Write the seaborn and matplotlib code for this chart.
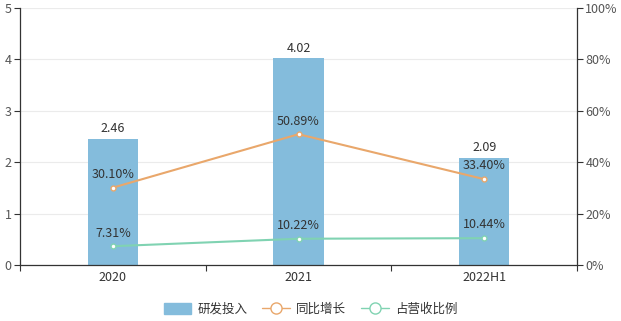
import matplotlib
matplotlib.use("Agg")
import matplotlib.pyplot as plt
import seaborn as sns
import pandas as pd
from matplotlib.lines import Line2D
from matplotlib.patches import Patch

categories = ["2020", "2021", "2022H1"]
rd_invest = [2.46, 4.02, 2.09]
yoy_growth = [30.10, 50.89, 33.40]
revenue_ratio = [7.31, 10.22, 10.44]

bar_color = "#84bcdc"
orange = "#e9a76b"
green = "#80d3b2"
text_color = "#333333"

sns.set_theme(style="white")
plt.rcParams['font.family'] = ['Noto Sans CJK SC', 'DejaVu Sans']

fig = plt.figure(figsize=(6.21, 3.21), dpi=100)
ax = fig.add_axes([20/621, 56/321, 557/621, 257/321])

df = pd.DataFrame({"cat": categories, "val": rd_invest})
sns.barplot(data=df, x="cat", y="val", color=bar_color, width=0.27, ax=ax, saturation=1,
            linewidth=0, edgecolor="none")
ax.set_xlim(-0.5, 2.5)
ax.set_ylim(0, 5)
ax.set_yticks([0, 1, 2, 3, 4, 5])
ax.yaxis.grid(True, color="#ebebeb", linewidth=0.8)
ax.set_axisbelow(True)
ax.set_xlabel("")
ax.set_ylabel("")
for s in ["top", "right"]:
    ax.spines[s].set_visible(False)
for s in ["left", "bottom"]:
    ax.spines[s].set_color("#333333")
    ax.spines[s].set_linewidth(0.9)
ax.tick_params(axis="y", left=True, length=4, width=0.8, color="#333333", labelsize=9, labelcolor="#555555", pad=2)
ax.tick_params(axis="x", bottom=False, labelsize=9, labelcolor="#333333", pad=-2)
ax.set_xticks([-0.5, 0.5, 1.5, 2.5], minor=True)
ax.tick_params(axis="x", which="minor", bottom=True, length=4, width=0.8, color="#333333")

for i, v in enumerate(rd_invest):
    ax.text(i, v + 0.07, f"{v:.2f}", ha="center", va="bottom", fontsize=9, color=text_color)

ax2 = ax.twinx()
ldf = pd.DataFrame({"x": [0, 1, 2], "yoy": yoy_growth, "ratio": revenue_ratio})
sns.lineplot(data=ldf, x="x", y="yoy", ax=ax2, color=orange, linewidth=1.5, marker="o",
             markersize=3.5, markerfacecolor="white", markeredgecolor=orange, markeredgewidth=1)
sns.lineplot(data=ldf, x="x", y="ratio", ax=ax2, color=green, linewidth=1.5, marker="o",
             markersize=3.5, markerfacecolor="white", markeredgecolor=green, markeredgewidth=1)
ax2.set_ylim(0, 100)
ax2.set_xlim(-0.5, 2.5)
ax2.set_yticks([0, 20, 40, 60, 80, 100])
ax2.set_yticklabels([f"{t}%" for t in [0, 20, 40, 60, 80, 100]])
ax2.set_xlabel("")
ax2.set_ylabel("")
for s in ["top", "left", "bottom"]:
    ax2.spines[s].set_visible(False)
ax2.spines["right"].set_color("#333333")
ax2.spines["right"].set_linewidth(0.9)
ax2.tick_params(axis="y", right=True, length=4, width=0.8, color="#333333", labelsize=9, labelcolor="#555555", pad=2)
ax2.grid(False)

for i, v in enumerate(yoy_growth):
    ax2.text(i, v + 2.6, f"{v:.2f}%", ha="center", va="bottom", fontsize=9, color=text_color)
for i, v in enumerate(revenue_ratio):
    ax2.text(i, v + 2.6, f"{v:.2f}%", ha="center", va="bottom", fontsize=9, color=text_color)

handles = [
    Patch(facecolor=bar_color, edgecolor=bar_color),
    Line2D([0], [0], color=orange, linewidth=1, marker="o", markersize=8, markerfacecolor="white", markeredgecolor=orange),
    Line2D([0], [0], color=green, linewidth=1, marker="o", markersize=8, markerfacecolor="white", markeredgecolor=green),
]
fig.legend(handles, ["研发投入", "同比增长", "占营收比例"], loc="center", bbox_to_anchor=(0.5, 12/321),
           ncol=3, frameon=False, fontsize=9, handlelength=2.2, handleheight=1.0, columnspacing=1.2,
           handletextpad=0.5, labelcolor="#333333")

fig.savefig("out.png", dpi=100)
